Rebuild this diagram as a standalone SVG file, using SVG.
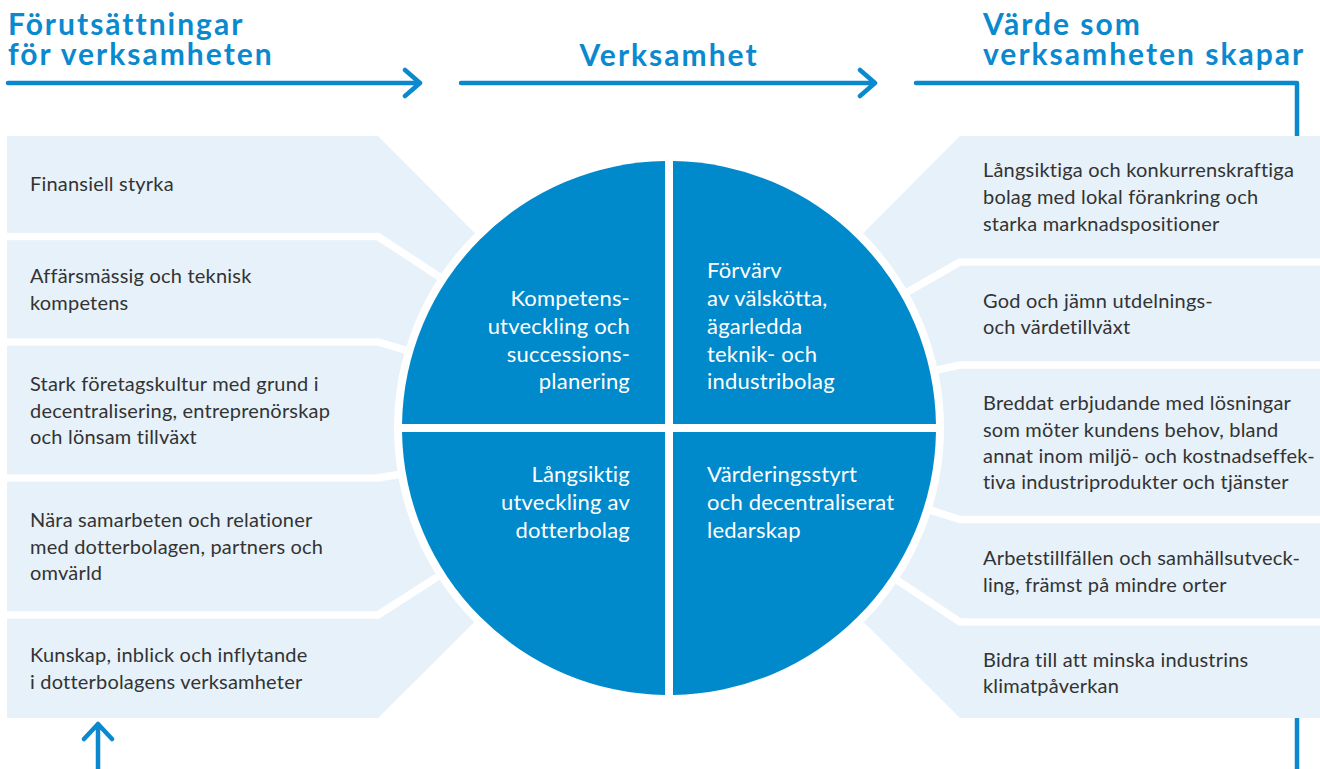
<svg xmlns="http://www.w3.org/2000/svg" width="1320" height="769" viewBox="0 0 1320 769">
<style>
.panel{fill:#e6f1fa}
.sep{stroke:#ffffff;stroke-width:7.5;fill:none;stroke-linejoin:miter}
.quad{fill:#0089cb}
.body{font-family:Lato,"Liberation Sans",sans-serif;font-size:20px;letter-spacing:0.2px;fill:#333333}
.qt{font-family:Lato,"Liberation Sans",sans-serif;font-size:22px;letter-spacing:0.2px;fill:#ffffff}
.head{font-family:Lato,"Liberation Sans",sans-serif;font-size:30px;letter-spacing:2px;font-weight:700;fill:#0a89cf}
.flow{stroke:#0a89cf;stroke-width:4.5;fill:none;stroke-linecap:round;stroke-linejoin:round}
</style>
<rect width="1320" height="769" fill="#ffffff"/>
<g id="connectors">
<path class="flow" d="M8,83 H420 M405,70 L420,83 L405,96"/>
<path class="flow" d="M461,83 H875 M860,70 L875,83 L860,96"/>
<path class="flow" d="M916,83 H1297 V771" stroke-linecap="butt"/>
<path class="flow" d="M98,771 V724 M84,739 L98,724 L112,739"/>
</g>
<g id="headers">
<text class="head" x="8" y="35">Förutsättningar</text>
<text class="head" x="8" y="65">för verksamheten</text>
<text class="head" x="669" y="66" text-anchor="middle">Verksamhet</text>
<text class="head" x="983" y="35">Värde som</text>
<text class="head" x="983" y="65">verksamheten skapar</text>
</g>
<g id="left-1"><polygon class="panel" points="7,136 378,136 669,428 378,236.5 7,236.5"/>
<text class="body" x="30" y="191">Finansiell styrka</text></g>
<g id="left-2"><polygon class="panel" points="7,236.5 378,236.5 669,428 378,342 7,342"/>
<text class="body" x="30" y="283">Affärsmässig och teknisk</text>
<text class="body" x="30" y="310">kompetens</text></g>
<g id="left-3"><polygon class="panel" points="7,342 378,342 669,428 378,478 7,478"/>
<text class="body" x="30" y="391">Stark företagskultur med grund i</text>
<text class="body" x="30" y="417.5">decentralisering, entreprenörskap</text>
<text class="body" x="30" y="443.5">och lönsam tillväxt</text></g>
<g id="left-4"><polygon class="panel" points="7,478 378,478 669,428 378,615 7,615"/>
<text class="body" x="30" y="527">Nära samarbeten och relationer</text>
<text class="body" x="30" y="553.5">med dotterbolagen, partners och</text>
<text class="body" x="30" y="580">omvärld</text></g>
<g id="left-5"><polygon class="panel" points="7,615 378,615 669,428 378,718 7,718"/>
<text class="body" x="30" y="662">Kunskap, inblick och inflytande</text>
<text class="body" x="30" y="689">i dotterbolagens verksamheter</text></g>
<g id="right-1"><polygon class="panel" points="1320,136 960,136 669,428 960,262 1320,262"/>
<text class="body" x="983" y="177">Långsiktiga och konkurrenskraftiga</text>
<text class="body" x="983" y="204">bolag med lokal förankring och</text>
<text class="body" x="983" y="231">starka marknadspositioner</text></g>
<g id="right-2"><polygon class="panel" points="1320,262 960,262 669,428 960,365 1320,365"/>
<text class="body" x="983" y="308">God och jämn utdelnings-</text>
<text class="body" x="983" y="333.5">och värdetillväxt</text></g>
<g id="right-3"><polygon class="panel" points="1320,365 960,365 669,428 960,519.5 1320,519.5"/>
<text class="body" x="983" y="410">Breddat erbjudande med lösningar</text>
<text class="body" x="983" y="436.5">som möter kundens behov, bland</text>
<text class="body" x="983" y="462.5">annat inom miljö- och kostnadseffek-</text>
<text class="body" x="983" y="489">tiva industriprodukter och tjänster</text></g>
<g id="right-4"><polygon class="panel" points="1320,519.5 960,519.5 669,428 960,622 1320,622"/>
<text class="body" x="983" y="565">Arbetstillfällen och samhällsutveck-</text>
<text class="body" x="983" y="591.5">ling, främst på mindre orter</text></g>
<g id="right-5"><polygon class="panel" points="1320,622 960,622 669,428 960,718 1320,718"/>
<text class="body" x="983" y="666.5">Bidra till att minska industrins</text>
<text class="body" x="983" y="693">klimatpåverkan</text></g>
<g id="separators">
<path class="sep" d="M0,236.5 H378 L669,428"/>
<path class="sep" d="M0,342 H378 L669,428"/>
<path class="sep" d="M0,478 H378 L669,428"/>
<path class="sep" d="M0,615 H378 L669,428"/>
<path class="sep" d="M1320,262 H960 L669,428"/>
<path class="sep" d="M1320,365 H960 L669,428"/>
<path class="sep" d="M1320,519.5 H960 L669,428"/>
<path class="sep" d="M1320,622 H960 L669,428"/>
<circle cx="669" cy="428" r="275" fill="#ffffff"/>
</g>
<g id="quad-tl"><path class="quad" d="M665,424 L665,161.03 A267,267 0 0 0 402.03,424 Z"/>
<text class="qt" x="630" y="306" text-anchor="end">Kompetens-</text>
<text class="qt" x="630" y="334" text-anchor="end">utveckling och</text>
<text class="qt" x="630" y="362" text-anchor="end">successions-</text>
<text class="qt" x="630" y="389" text-anchor="end">planering</text></g>
<g id="quad-tr"><path class="quad" d="M673,424 L673,161.03 A267,267 0 0 1 935.97,424 Z"/>
<text class="qt" x="707" y="278">Förvärv</text>
<text class="qt" x="707" y="306">av välskötta,</text>
<text class="qt" x="707" y="334">ägarledda</text>
<text class="qt" x="707" y="362">teknik- och</text>
<text class="qt" x="707" y="389">industribolag</text></g>
<g id="quad-bl"><path class="quad" d="M665,432 L402.03,432 A267,267 0 0 0 665,694.97 Z"/>
<text class="qt" x="630" y="482" text-anchor="end">Långsiktig</text>
<text class="qt" x="630" y="510" text-anchor="end">utveckling av</text>
<text class="qt" x="630" y="537.5" text-anchor="end">dotterbolag</text></g>
<g id="quad-br"><path class="quad" d="M673,432 L935.97,432 A267,267 0 0 1 673,694.97 Z"/>
<text class="qt" x="707" y="482">Värderingsstyrt</text>
<text class="qt" x="707" y="510">och decentraliserat</text>
<text class="qt" x="707" y="537.5">ledarskap</text></g>
</svg>
